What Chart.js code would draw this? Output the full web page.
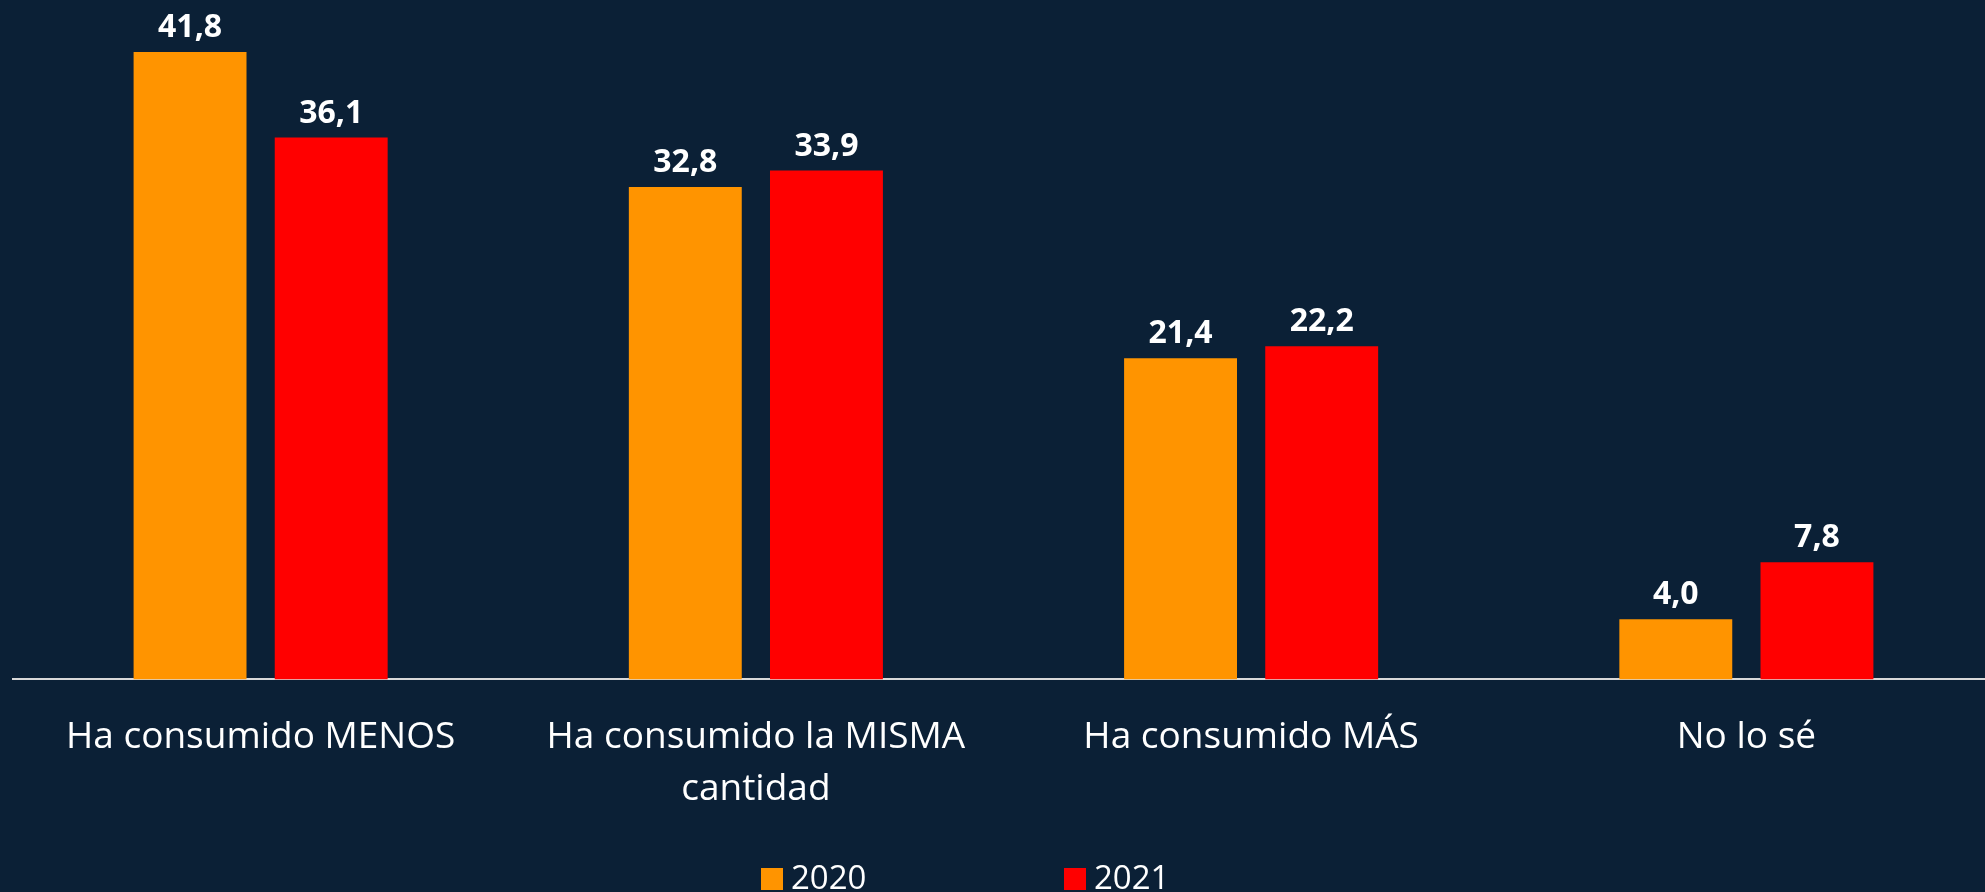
<!DOCTYPE html>
<html lang="es">
<head>
<meta charset="utf-8">
<title>Consumo 2020 vs 2021</title>
<script src="https://cdn.jsdelivr.net/npm/chart.js@4.4.0/dist/chart.umd.min.js"></script>
<style>
    html, body { margin: 0; padding: 0; background: #0b2036; overflow: hidden; }
    #wrap { position: absolute; left: 0; top: 0; width: 1994px; height: 892px; }
    #legend { position: absolute; left: 0; top: 0; width: 100%; height: 100%; pointer-events: none; }
    .leg-item { position: absolute; top: 860px; display: flex; align-items: flex-start; font-family: "Open Sans", sans-serif; font-size: 33px; line-height: 33px; color: #ffffff; white-space: nowrap; }
    .leg-box { width: 22px; height: 22px; margin-top: 8px; margin-right: 8px; }
</style>
</head>
<body>
<div id="wrap">
    <canvas id="grafico"></canvas>
    <div id="legend"></div>
</div>
<script>
const categorias = [
    "Ha consumido MENOS",
    ["Ha consumido la MISMA", "cantidad"],
    "Ha consumido MÁS",
    "No lo sé"
];
const anios = ["2020", "2021"];
const valores2020 = [41.8, 32.8, 21.4, 4.0];
const valores2021 = [36.1, 33.9, 22.2, 7.8];
const colores = ["#ff9400", "#ff0000"];

// etiquetas encima de cada barra
const etiquetasBarras = {
    id: "etiquetasBarras",
    afterDatasetsDraw(chart) {
        const ctx = chart.ctx;
        ctx.save();
        ctx.fillStyle = "#ffffff";
        ctx.font = "bold 32px 'Open Sans', sans-serif";
        ctx.textAlign = "center";
        ctx.textBaseline = "alphabetic";
        chart.data.datasets.forEach((ds, i) => {
            chart.getDatasetMeta(i).data.forEach((bar, j) => {
                const txt = ds.data[j].toFixed(1).replace(".", ",");
                ctx.fillText(txt, bar.x, bar.y - 15);
            });
        });
        ctx.restore();
    }
};

// leyenda en html
const leyendaHtml = {
    id: "leyendaHtml",
    afterUpdate(chart) {
        const cont = document.getElementById("legend");
        cont.innerHTML = "";
        chart.data.datasets.forEach((ds, i) => {
            const item = document.createElement("div");
            item.className = "leg-item";
            item.style.left = (761 + i * 303) + "px";
            const box = document.createElement("span");
            box.className = "leg-box";
            box.style.background = ds.backgroundColor;
            const txt = document.createElement("span");
            txt.textContent = ds.label;
            item.appendChild(box);
            item.appendChild(txt);
            cont.appendChild(item);
        });
    }
};

const ctx = document.getElementById("grafico").getContext("2d");
new Chart(ctx, {
    type: "bar",
    data: {
        labels: categorias,
        datasets: [
            { label: anios[0], data: valores2020, backgroundColor: colores[0] },
            { label: anios[1], data: valores2021, backgroundColor: colores[1] }
        ]
    },
    options: {
        responsive: true,
        maintainAspectRatio: false,
        animation: false,
        layout: { padding: { left: 13, right: 0, top: 4, bottom: 45 } },
        datasets: { bar: { categoryPercentage: 0.57, barPercentage: 0.8 } },
        plugins: {
            legend: { display: false },
            tooltip: { enabled: false }
        },
        scales: {
            x: {
                grid: { display: false, drawTicks: false },
                border: { display: true, color: "#d9d9d9", width: 2 },
                ticks: {
                    color: "#ffffff",
                    padding: 32,
                    maxRotation: 0,
                    autoSkip: false,
                    font: { family: "'Open Sans', sans-serif", size: 37, lineHeight: 1.4 }
                }
            },
            y: {
                display: false,
                min: 0,
                max: 45
            }
        }
    },
    plugins: [etiquetasBarras, leyendaHtml]
});
</script>
</body>
</html>
